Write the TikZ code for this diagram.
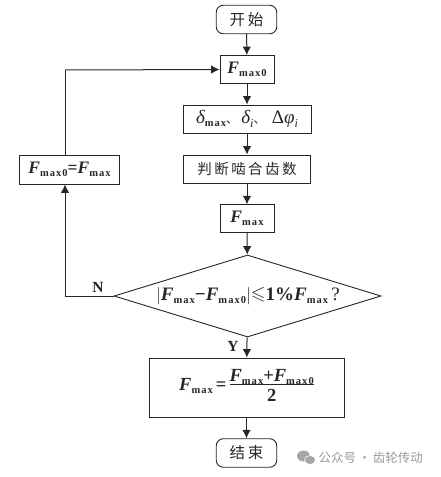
\documentclass[tikz,border=0pt]{standalone}
\usepackage{amssymb}
\usepackage{fontspec}
\setmainfont{Liberation Serif}
\newfontfamily\cjk{Noto Sans CJK SC}
\usetikzlibrary{arrows.meta,shapes.geometric,positioning,calc}
\newcommand{\FF}{{\bfseries\itshape F}}
\newcommand{\sbt}[1]{\raisebox{-0.35ex}{\fontsize{10.5}{10.5}\selectfont\bfseries\addfontfeature{LetterSpace=10}#1}}
\newcommand{\Fmax}{\FF\sbt{max}}
\newcommand{\Fmaxz}{\FF\sbt{max0}}
\tikzset{
  x=1pt,y=-1pt,
  box/.style={draw=black!85,line width=0.9pt,rectangle,minimum width=#1,inner sep=0pt,font=\fontsize{17.5}{19}\selectfont,text=black!85},
  box/.default=54pt,
  term/.style={draw=black!85,line width=0.9pt,rectangle,rounded corners=7pt,minimum width=60.5pt,minimum height=28.5pt,inner sep=0pt,font=\cjk\fontsize{15.5}{17}\selectfont,text=black!85},
  arr/.style={draw=black!85,line width=1pt,-{Latex[length=8.5pt,width=8.5pt]}},
  lbl/.style={font=\bfseries\fontsize{15.5}{17}\selectfont,text=black!85,inner sep=0pt}
}
\begin{document}
\begin{tikzpicture}
\useasboundingbox (0,0) rectangle (441,477);
\node[term] (start) at (246.5,19.5) {开\,始};
\node[box=54pt,minimum height=28pt] (f0) at (247,69.5) {\Fmaxz};
\node[box=128pt,minimum height=28pt] (delta) at (247,119) {\fontsize{19}{20}\selectfont\itshape δ\sbt{\upshape max}{\cjk\fontsize{12}{12}\selectfont 、}\,δ\raisebox{-0.4ex}{\fontsize{12}{12}\selectfont\itshape i}{\cjk\fontsize{12}{12}\selectfont 、}\,\,{\upshape Δ}φ\raisebox{-0.4ex}{\fontsize{12}{12}\selectfont\itshape i}};
\node[box=127pt,minimum height=28pt,font=\cjk\fontsize{14.5}{16}\selectfont] (judge) at (247,169) {判\,断\,啮\,合\,齿\,数};
\node[box=54pt,minimum height=27.5pt] (f1) at (247,218.5) {\Fmax};
\node[diamond,draw=black!85,line width=0.9pt,minimum width=267pt,minimum height=82pt,inner sep=0pt,aspect=3.25] (dec) at (247.5,296) {};
\node[font=\fontsize{19}{20}\selectfont,text=black!85,inner sep=0pt] (cond) at (248,296) {$\Big|$\Fmax{\bfseries −}\Fmaxz$\Big|$\raisebox{0.1ex}{$\leqslant$}{\bfseries 1\%}\Fmax\,?};
\node[box=195pt,minimum height=59pt] (res) at (246.5,387.5) {\fontsize{18.5}{20}\selectfont\Fmax\,{\bfseries =}\,\raisebox{-0.1ex}{$\vcenter{\hbox{\begin{tabular}{@{}c@{}}\Fmax{\bfseries +}\Fmaxz\\[-3pt]\hline\noalign{\vskip 3pt}{\bfseries 2}\end{tabular}}}$}};
\node[term] (end) at (246.5,453) {结\,束};
\node[box=100pt,minimum height=29pt] (fl) at (69.5,169.5) {\Fmaxz{\bfseries =}\Fmax};
\coordinate (tl) at (65,70);
\coordinate (bl) at (65,296);
\draw[arr] (start) -- (f0);
\draw[arr] (f0) -- (delta);
\draw[arr] (delta) -- (judge);
\draw[arr] (judge) -- (f1);
\draw[arr] (f1) -- (dec);
\draw[arr] (dec) -- (res);
\draw[arr] (res) -- (end);
\draw[arr] (dec.west) -- (bl) -- (fl.south -| bl);
\draw[arr,-] (fl.north -| tl) -- (tl);
\draw[arr] (tl) -- (f0.west);
\node[lbl] (n) at (98,287) {N};
\node[lbl] (y) at (233,346) {Y};
\fill[black!35] (303.5,456) ellipse (6.5pt and 5.5pt);
\fill[black!35,draw=white,line width=0.6pt] (310,460) ellipse (5.5pt and 4.5pt);
\node[anchor=west,inner sep=0pt,text=black!40,font=\cjk\fontsize{12.5}{14}\selectfont] (wm) at (318.5,458) {公众号\,·\,齿轮传动};
\end{tikzpicture}
\end{document}
